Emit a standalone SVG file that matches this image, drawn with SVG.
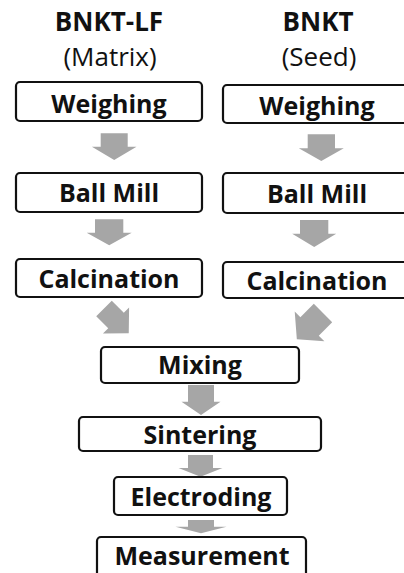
<svg xmlns="http://www.w3.org/2000/svg" width="404" height="573" viewBox="0 0 404 573">
<style>
.box{fill:#fff;stroke:#111;stroke-width:2.2}
.lbl{font-family:"Open Sans","Noto Sans",sans-serif;font-weight:bold;font-size:25px;fill:#111;text-anchor:middle}
.ttl{font-family:"Open Sans","Noto Sans",sans-serif;font-weight:bold;font-size:26px;fill:#111;text-anchor:middle}
.sub{font-family:"Open Sans","Noto Sans",sans-serif;font-size:26px;fill:#111;text-anchor:middle}
.arr{fill:#a6a6a6}
</style>
<rect width="404" height="573" fill="#fff"/>
<g id="titles">
<text class="ttl" x="109" y="31">BNKT-LF</text>
<text class="sub" x="110" y="66">(Matrix)</text>
<text class="ttl" x="318" y="31">BNKT</text>
<text class="sub" x="319" y="66">(Seed)</text>
</g>
<g id="connectors">
<polygon class="arr" points="100.7,133.3 127.7,133.3 127.7,146.7 136.5,146.7 114.2,160 91.9,146.7 100.7,146.7"/>
<polygon class="arr" points="307.7,134.3 335,134.3 335,148.3 343.8,148.3 321.3,161 298.8,148.3 307.7,148.3"/>
<polygon class="arr" points="95,219.3 123.3,219.3 123.3,232.7 131.7,232.7 109.2,245.3 86.7,232.7 95,232.7"/>
<polygon class="arr" points="300,220 328.3,220 328.3,233.7 336.2,233.7 314.2,247 292.2,233.7 300,233.7"/>
<polygon class="arr" transform="translate(104,308.5) rotate(-45)" points="-11,0 11,0 11,17 18.5,17 0,35 -18.5,17 -11,17"/>
<polygon class="arr" transform="translate(323,313) rotate(45)" points="-13,0 13,0 13,19 21,19 0,37 -21,19 -13,19"/>
<polygon class="arr" points="188,385 214,385 214,401.7 220.5,401.7 201,415 181.5,401.7 188,401.7"/>
<polygon class="arr" points="188,455 213,455 213,468 222.5,468 200.5,476.7 178.5,468 188,468"/>
<polygon class="arr" points="188,520 214,520 214,526.7 226.5,526.7 201,533.3 175.5,526.7 188,526.7"/>
</g>
<g id="weighing-l"><rect class="box" x="16" y="82" width="186" height="39" rx="4"/><text class="lbl" x="109" y="113">Weighing</text></g>
<g id="weighing-r"><rect class="box" x="223" y="85" width="192" height="38" rx="4"/><text class="lbl" x="317" y="115">Weighing</text></g>
<g id="ballmill-l"><rect class="box" x="16" y="173" width="186" height="39" rx="4"/><text class="lbl" x="109" y="202">Ball Mill</text></g>
<g id="ballmill-r"><rect class="box" x="223" y="173" width="192" height="40" rx="4"/><text class="lbl" x="317" y="203">Ball Mill</text></g>
<g id="calcination-l"><rect class="box" x="16" y="259" width="186" height="38" rx="4"/><text class="lbl" x="109" y="288">Calcination</text></g>
<g id="calcination-r"><rect class="box" x="223" y="262" width="192" height="36" rx="4"/><text class="lbl" x="317" y="290">Calcination</text></g>
<g id="mixing"><rect class="box" x="101" y="347" width="198" height="36" rx="4"/><text class="lbl" x="200" y="374">Mixing</text></g>
<g id="sintering"><rect class="box" x="79" y="417" width="242" height="34" rx="4"/><text class="lbl" x="200" y="444">Sintering</text></g>
<g id="electroding"><rect class="box" x="114" y="477" width="173" height="38" rx="4"/><text class="lbl" x="201" y="506">Electroding</text></g>
<g id="measurement"><rect class="box" x="97" y="537" width="209" height="42" rx="4"/><text class="lbl" x="202" y="565">Measurement</text></g>
</svg>
